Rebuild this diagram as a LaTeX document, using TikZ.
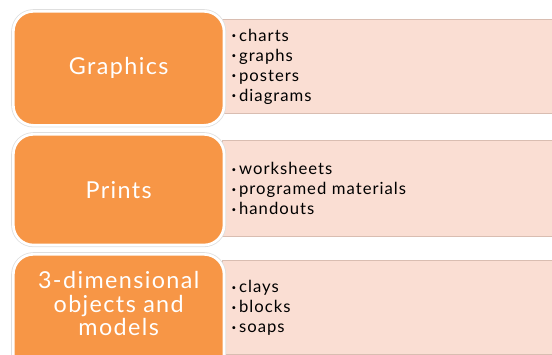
\documentclass[tikz,border=0pt]{standalone}
\usepackage{fontspec}
\setmainfont{Lato}[LetterSpace=6]
\usetikzlibrary{positioning}
\definecolor{catorange}{HTML}{F79646}
\definecolor{listpink}{HTML}{FADED3}
\definecolor{listedge}{HTML}{D9BDB1}
\tikzset{
  cat/.style={rectangle, rounded corners=15pt, fill=catorange, draw=white, line width=2pt,
    preaction={draw=gray!25, line width=3.2pt}, text=white, align=center,
    font=\fontsize{17.5}{16}\selectfont, minimum width=158pt, anchor=north west},
  items/.style={rectangle, fill=listpink, draw=listedge, line width=0.6pt, anchor=north west,
    align=left, inner xsep=7pt, minimum width=251pt, text width=237pt,
    font=\fontsize{12.5}{15}\selectfont}
}
\newcommand{\itm}{\raisebox{0.25ex}{\fontsize{6}{6}\selectfont\textbullet}\,}

\begin{document}
\begin{tikzpicture}[x=0.75pt, y=-0.75pt]
    \useasboundingbox (0,0) rectangle (552,354);
    \clip (0,0) rectangle (552,354);

    % Lists
    \node[items, minimum height=70.5pt] (list1) at (222,19)
      {\itm charts\\ \itm graphs\\ \itm posters\\ \itm diagrams};
    \node[items, minimum height=72pt] (list2) at (222,140)
      {\itm worksheets\\ \itm programed materials\\ \itm handouts};
    \node[items, minimum height=70.5pt] (list3) at (222,260)
      {\itm clays\\ \itm blocks\\ \itm soaps};

    % Categories
    \node[cat, minimum height=85.5pt] (cat1) at (12,10) {Graphics};
    \node[cat, minimum height=83pt] (cat2) at (12,133) {Prints};
    \node[cat, minimum height=92pt] (cat3) at (12,253)
      {\raisebox{0pt}[\height][\dimexpr\depth+13pt\relax]{\begin{tabular}{@{}c@{}}3-dimensional\\objects and\\models\end{tabular}}};

\end{tikzpicture}
\end{document}
